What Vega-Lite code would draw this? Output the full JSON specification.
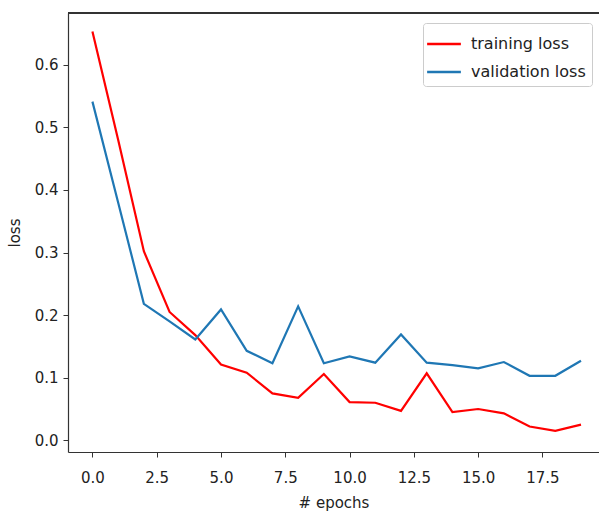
{
  "$schema": "https://vega.github.io/schema/vega-lite/v6.json",
  "width": 531,
  "height": 439,
  "autosize": {"type": "none"},
  "padding": {"left": 68, "top": 13, "right": 0, "bottom": 64},
  "background": "white",
  "config": {
    "view": {"stroke": null},
    "font": "DejaVu Sans",
    "axis": {"grid": false, "domainColor": "#333333", "tickColor": "#333333", "labelColor": "#222222", "titleColor": "#222222", "labelFont": "DejaVu Sans", "titleFont": "DejaVu Sans", "titleFontWeight": "normal", "labelFontSize": 15, "titleFontSize": 15, "tickSize": 5, "domainWidth": 1.2}
  },
  "data": {
    "values": [
      {"epoch": 0, "loss": 0.653, "series": "training loss"},
      {"epoch": 1, "loss": 0.48, "series": "training loss"},
      {"epoch": 2, "loss": 0.302, "series": "training loss"},
      {"epoch": 3, "loss": 0.205, "series": "training loss"},
      {"epoch": 4, "loss": 0.168, "series": "training loss"},
      {"epoch": 5, "loss": 0.121, "series": "training loss"},
      {"epoch": 6, "loss": 0.108, "series": "training loss"},
      {"epoch": 7, "loss": 0.075, "series": "training loss"},
      {"epoch": 8, "loss": 0.068, "series": "training loss"},
      {"epoch": 9, "loss": 0.106, "series": "training loss"},
      {"epoch": 10, "loss": 0.061, "series": "training loss"},
      {"epoch": 11, "loss": 0.060, "series": "training loss"},
      {"epoch": 12, "loss": 0.047, "series": "training loss"},
      {"epoch": 13, "loss": 0.107, "series": "training loss"},
      {"epoch": 14, "loss": 0.045, "series": "training loss"},
      {"epoch": 15, "loss": 0.050, "series": "training loss"},
      {"epoch": 16, "loss": 0.043, "series": "training loss"},
      {"epoch": 17, "loss": 0.022, "series": "training loss"},
      {"epoch": 18, "loss": 0.015, "series": "training loss"},
      {"epoch": 19, "loss": 0.025, "series": "training loss"},
      {"epoch": 0, "loss": 0.541, "series": "validation loss"},
      {"epoch": 1, "loss": 0.38, "series": "validation loss"},
      {"epoch": 2, "loss": 0.218, "series": "validation loss"},
      {"epoch": 3, "loss": 0.19, "series": "validation loss"},
      {"epoch": 4, "loss": 0.161, "series": "validation loss"},
      {"epoch": 5, "loss": 0.209, "series": "validation loss"},
      {"epoch": 6, "loss": 0.143, "series": "validation loss"},
      {"epoch": 7, "loss": 0.123, "series": "validation loss"},
      {"epoch": 8, "loss": 0.214, "series": "validation loss"},
      {"epoch": 9, "loss": 0.123, "series": "validation loss"},
      {"epoch": 10, "loss": 0.134, "series": "validation loss"},
      {"epoch": 11, "loss": 0.124, "series": "validation loss"},
      {"epoch": 12, "loss": 0.169, "series": "validation loss"},
      {"epoch": 13, "loss": 0.124, "series": "validation loss"},
      {"epoch": 14, "loss": 0.12, "series": "validation loss"},
      {"epoch": 15, "loss": 0.115, "series": "validation loss"},
      {"epoch": 16, "loss": 0.125, "series": "validation loss"},
      {"epoch": 17, "loss": 0.103, "series": "validation loss"},
      {"epoch": 18, "loss": 0.103, "series": "validation loss"},
      {"epoch": 19, "loss": 0.127, "series": "validation loss"}
    ]
  },
  "layer": [
    {
      "mark": {"type": "line", "strokeWidth": 2.2, "clip": true},
      "encoding": {
        "x": {
          "field": "epoch", "type": "quantitative",
          "scale": {"domain": [-0.95, 19.7], "nice": false, "zero": false},
          "axis": {"title": "# epochs", "values": [0, 2.5, 5, 7.5, 10, 12.5, 15, 17.5], "format": ".1f", "labelPadding": 13, "titlePadding": 10, "labelFlush": false}
        },
        "y": {
          "field": "loss", "type": "quantitative",
          "scale": {"domain": [-0.0187, 0.6826], "nice": false, "zero": false},
          "axis": {"title": "loss", "values": [0, 0.1, 0.2, 0.3, 0.4, 0.5, 0.6], "format": ".1f", "labelPadding": 5, "titlePadding": 12, "labelFlush": false}
        },
        "color": {
          "field": "series", "type": "nominal",
          "scale": {"domain": ["training loss", "validation loss"], "range": ["#ff0000", "#1f77b4"]},
          "legend": {
            "title": null,
            "orient": "none",
            "legendX": 355,
            "legendY": 10,
            "fillColor": "white",
            "strokeColor": "#cccccc",
            "cornerRadius": 3,
            "padding": 6,
            "symbolType": "M-1.25,0H1.25",
            "symbolSize": 729,
            "symbolStrokeWidth": 2.5,
            "labelFontSize": 16,
            "labelColor": "#222222",
            "labelFont": "DejaVu Sans",
            "labelOffset": 12,
            "rowPadding": 5
          }
        }
      }
    },
    {
      "mark": {"type": "rule", "color": "#333333", "strokeWidth": 1.2},
      "encoding": {
        "y": {"datum": 0.6826, "type": "quantitative"}
      }
    }
  ]
}
